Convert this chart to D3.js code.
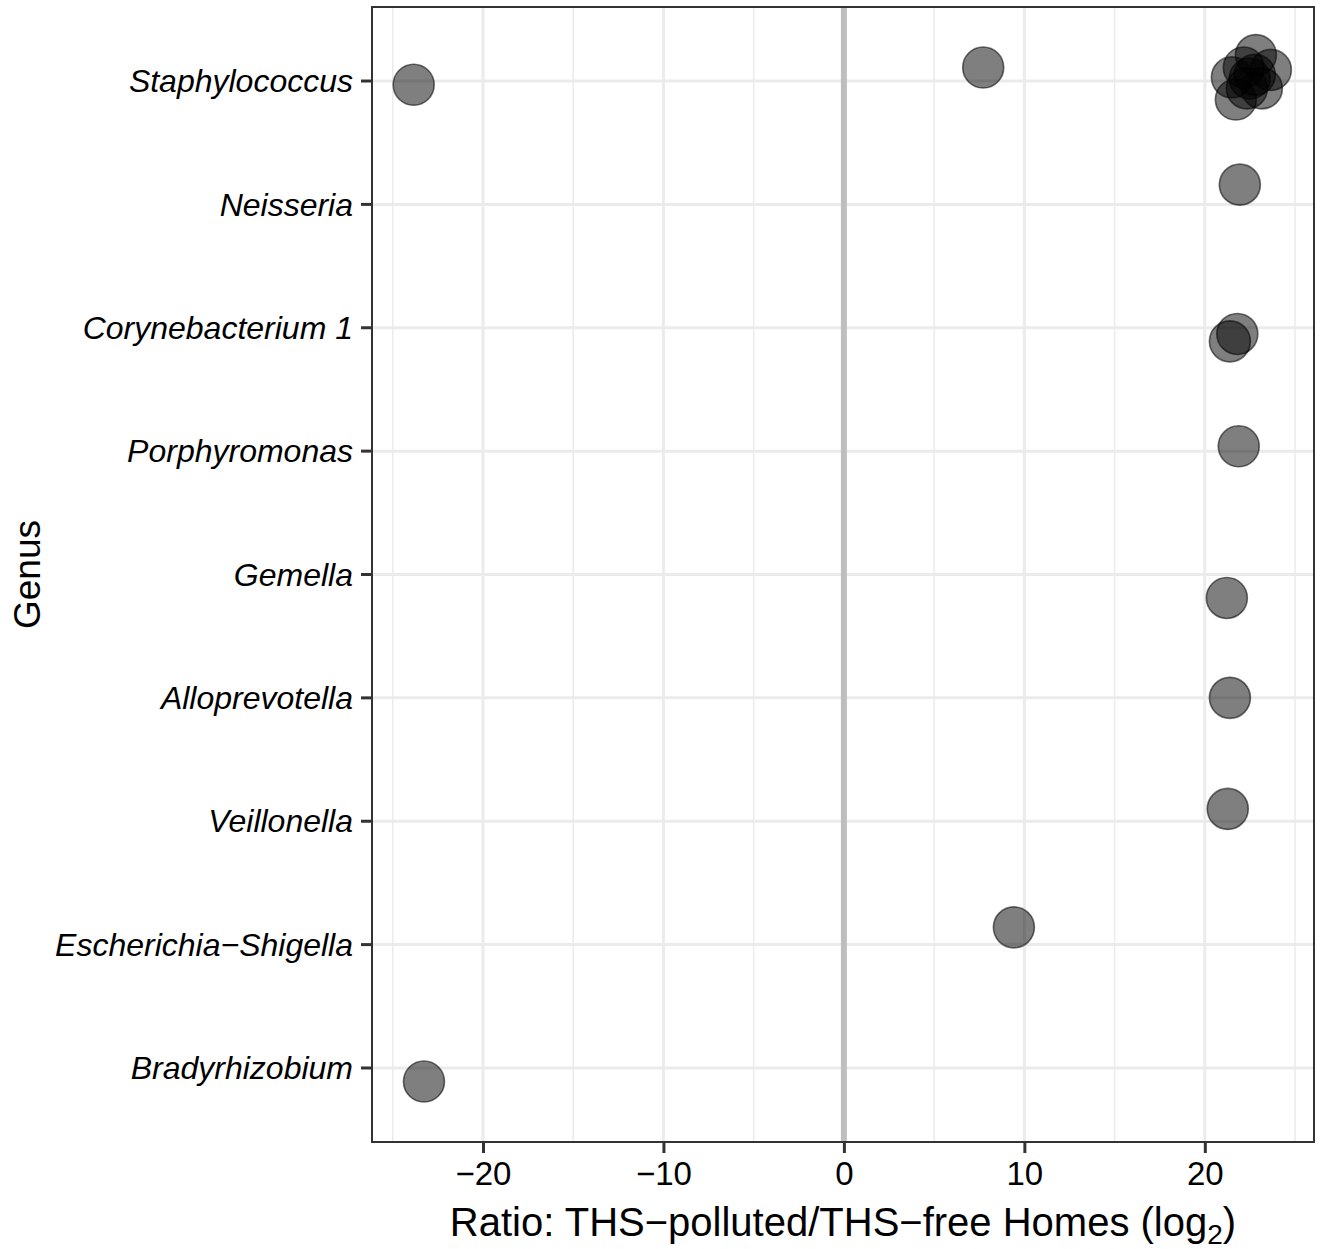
<!DOCTYPE html>
<html><head><meta charset="utf-8">
<script src="https://cdn.jsdelivr.net/npm/d3@7"></script>
<style>body{margin:0;background:#fff}svg{display:block}text{font-family:"Liberation Sans",Arial,Helvetica,sans-serif}</style>
</head><body>
<script>
// Categories top to bottom
const genera = ["Staphylococcus","Neisseria","Corynebacterium 1","Porphyromonas","Gemella","Alloprevotella","Veillonella","Escherichia\u2212Shigella","Bradyrhizobium"];
// Points: genus, log2 ratio, vertical jitter (band units, positive = down)
const pointGenus = ["Staphylococcus","Staphylococcus","Staphylococcus","Staphylococcus","Staphylococcus","Staphylococcus","Staphylococcus","Staphylococcus","Staphylococcus","Staphylococcus","Staphylococcus",
  "Neisseria","Corynebacterium 1","Corynebacterium 1","Porphyromonas","Gemella","Alloprevotella","Veillonella","Escherichia\u2212Shigella","Bradyrhizobium"];
const pointRatio = [-23.84, 7.72, 22.83, 23.66, 21.50, 21.72, 23.16, 22.33, 22.16, 22.49, 22.77,
  21.94, 21.80, 21.39, 21.88, 21.22, 21.39, 21.27, 9.42, -23.27];
const pointJitter = [0.03, -0.11, -0.21, -0.09, -0.03, 0.15, 0.06, 0.06, -0.11, -0.02, -0.05,
  -0.16, 0.05, 0.11, -0.04, 0.19, 0.0, -0.10, -0.14, 0.11];
const xTicks = [-20,-10,0,10,20];
const xMinor = [-25,-15,-5,5,15,25];

const W=1328,H=1249;
const m={left:372,right:14,top:7,bottom:107};
const pw=W-m.left-m.right, ph=H-m.top-m.bottom;
const svg=d3.select("body").append("svg").attr("width",W).attr("height",H);
const g=svg.append("g").attr("transform",`translate(${m.left},${m.top})`);

const x=d3.scaleLinear().domain([-26.15,26.05]).range([0,pw]);
const n=genera.length;
const y=d3.scaleLinear().domain([-0.6,n-1+0.6]).range([0,ph]);

// grid
g.selectAll(".minor").data(xMinor).join("line").attr("x1",d=>x(d)).attr("x2",d=>x(d)).attr("y1",0).attr("y2",ph)
 .attr("stroke","#ebebeb").attr("stroke-width",1.5);
g.selectAll(".majorx").data(xTicks).join("line").attr("x1",d=>x(d)).attr("x2",d=>x(d)).attr("y1",0).attr("y2",ph)
 .attr("stroke","#ebebeb").attr("stroke-width",3);
g.selectAll(".majory").data(genera).join("line").attr("x1",0).attr("x2",pw).attr("y1",(d,i)=>y(i)).attr("y2",(d,i)=>y(i))
 .attr("stroke","#ebebeb").attr("stroke-width",3);
// zero line
g.append("line").attr("x1",x(0)).attr("x2",x(0)).attr("y1",0).attr("y2",ph).attr("stroke","#bebebe").attr("stroke-width",6);

// points
const pts=pointRatio.map((v,i)=>({g:pointGenus[i],v,j:pointJitter[i]}));
g.selectAll("circle").data(pts).join("circle")
 .attr("cx",d=>x(d.v)).attr("cy",d=>y(genera.indexOf(d.g)+d.j)).attr("r",20.5)
 .attr("fill","#000").attr("fill-opacity",0.5).attr("stroke","#000").attr("stroke-opacity",0.55).attr("stroke-width",1.6);

// border
g.append("rect").attr("x",0).attr("y",0).attr("width",pw).attr("height",ph).attr("fill","none").attr("stroke","#333").attr("stroke-width",2);

// axes
const xa=d3.axisBottom(x).tickValues(xTicks).tickSize(11).tickPadding(9).tickFormat(d=>d<0?"\u2212"+Math.abs(d):d);
const xg=g.append("g").attr("transform",`translate(0,${ph})`).call(xa);
xg.select(".domain").remove();
xg.selectAll(".tick line").attr("stroke","#333").attr("stroke-width",3);
xg.selectAll(".tick text").attr("fill","#000").attr("font-size",33);

const yg=g.append("g");
genera.forEach((name,i)=>{
  yg.append("line").attr("x1",-11).attr("x2",0).attr("y1",y(i)).attr("y2",y(i)).attr("stroke","#333").attr("stroke-width",3);
  yg.append("text").attr("x",-19).attr("y",y(i)).attr("dy","0.35em").attr("text-anchor","end")
   .attr("font-size",32).attr("font-style","italic").attr("fill","#000").text(name);
});

// titles
const xt=svg.append("text").attr("x",m.left+pw/2).attr("y",1236).attr("text-anchor","middle").attr("font-size",40).attr("fill","#000");
xt.append("tspan").text("Ratio: THS\u2212polluted/THS\u2212free Homes (log");
xt.append("tspan").attr("font-size",28).attr("dy",8).text("2");
xt.append("tspan").attr("dy",-8).text(")");
svg.append("text").attr("transform",`translate(40,${m.top+ph/2}) rotate(-90)`).attr("text-anchor","middle").attr("font-size",37).attr("fill","#000").text("Genus");
</script>
</body></html>
